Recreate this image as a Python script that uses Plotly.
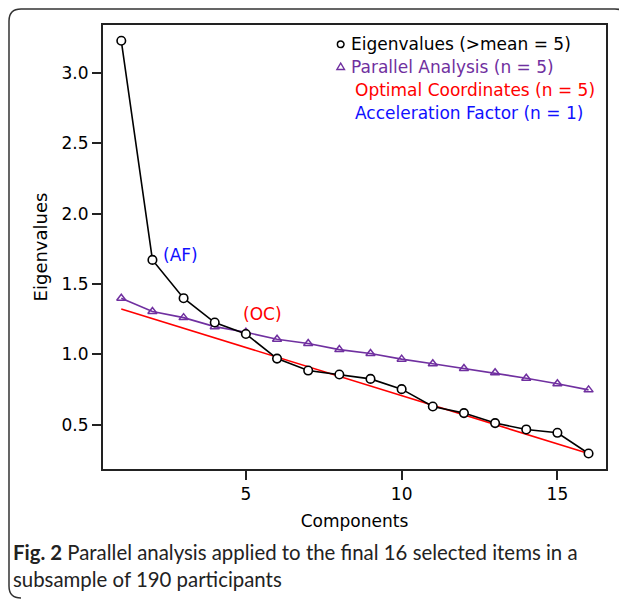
import plotly.graph_objects as go

# ---- data ----
components = list(range(1, 17))
eigenvalues = [3.227, 1.671, 1.399, 1.226, 1.145, 0.970, 0.885, 0.857,
               0.826, 0.753, 0.630, 0.583, 0.512, 0.467, 0.443, 0.296]
parallel = [1.399, 1.304, 1.261, 1.197, 1.157, 1.108, 1.077, 1.034,
            1.006, 0.966, 0.933, 0.900, 0.869, 0.831, 0.791, 0.748]
oc_x = [1, 16]
oc_y = [1.323, 0.296]

legend_labels = ["Eigenvalues (>mean = 5)", "Parallel Analysis (n = 5)",
                 "Optimal Coordinates (n = 5)", "Acceleration Factor (n = 1)"]
y_ticks = [0.5, 1.0, 1.5, 2.0, 2.5, 3.0]
x_ticks = [5, 10, 15]
caption_1 = "<b>Fig. 2</b> Parallel analysis applied to the final 16 selected items in a"
caption_2 = "subsample of 190 participants"

# ---- layout geometry (page has an 8px body margin) ----
OFF = 8
W, H = 627 - OFF, 603 - OFF
PLOT_L, PLOT_R, PLOT_T, PLOT_B = 103, 606, 25, 469   # page coordinates
L = PLOT_L - OFF
R = W - (PLOT_R - OFF)
T = PLOT_T - OFF
B = H - (PLOT_B - OFF)
PW, PH = PLOT_R - PLOT_L, PLOT_B - PLOT_T


def px(x):
    return (x - PLOT_L) / PW


def py(y):
    return (PLOT_B - y) / PH


BLACK = "#000000"
PURPLE = "rgb(112,48,160)"
RED = "#ff0000"
BLUE = "#1010ff"
FONT = "DejaVu Sans"

fig = go.Figure()

fig.add_trace(go.Scatter(
    x=oc_x, y=oc_y, mode="lines",
    line=dict(color=RED, width=1.6), showlegend=False, hoverinfo="skip"))

fig.add_trace(go.Scatter(
    x=components, y=parallel, mode="lines+markers",
    line=dict(color=PURPLE, width=1.6),
    marker=dict(symbol="triangle-up-open", size=8, color=PURPLE,
                line=dict(width=1.5, color=PURPLE)),
    showlegend=False))

fig.add_trace(go.Scatter(
    x=components, y=eigenvalues, mode="lines+markers",
    line=dict(color=BLACK, width=1.6),
    marker=dict(symbol="circle", size=8.5, color="white",
                line=dict(width=1.6, color=BLACK)),
    showlegend=False))

# ---- outer rounded border (page coordinates) ----
pts = [("M", 21, 598), ("Q", 9, 598, 9, 586), ("L", 9, 21), ("Q", 9, 9, 21, 9),
       ("L", 615, 9), ("Q", 627, 9, 627, 21)]
path = ""
for p in pts:
    cmd = p[0]
    coords = p[1:]
    parts = []
    for i in range(0, len(coords), 2):
        parts.append(f"{px(coords[i]):.5f},{py(coords[i+1]):.5f}")
    path += cmd + " " + " ".join(parts) + " "

shapes = [dict(type="path", xref="paper", yref="paper", path=path.strip(),
               line=dict(color="#333333", width=1.5), layer="below")]

# legend symbols
shapes.append(dict(type="circle", xref="paper", yref="paper",
                   xsizemode="pixel", ysizemode="pixel",
                   xanchor=px(340.7), yanchor=py(44.3),
                   x0=-3.3, x1=3.3, y0=-3.3, y1=3.3,
                   line=dict(color=BLACK, width=1.5)))
shapes.append(dict(type="path", xref="paper", yref="paper",
                   xsizemode="pixel", ysizemode="pixel",
                   xanchor=px(340.7), yanchor=py(66.7),
                   path="M -3.8,-2.8 L 3.8,-2.8 L 0,3.6 Z",
                   line=dict(color=PURPLE, width=1.4)))

annotations = []
legend_rows = [(349, 44.3, BLACK), (349, 66.7, PURPLE),
               (353, 90.0, RED), (353, 113.0, BLUE)]
for label, (lx, ly, col) in zip(legend_labels, legend_rows):
    annotations.append(dict(text=label, xref="paper", yref="paper",
                            x=px(lx), y=py(ly), xanchor="left", yanchor="middle",
                            showarrow=False, font=dict(family=FONT, size=17, color=col)))

annotations.append(dict(text="(AF)", x=2.28, y=1.706, xanchor="left", yanchor="middle",
                        showarrow=False, font=dict(family=FONT, size=17, color=BLUE)))
annotations.append(dict(text="(OC)", x=4.85, y=1.287, xanchor="left", yanchor="middle",
                        showarrow=False, font=dict(family=FONT, size=17, color=RED)))

annotations.append(dict(text=caption_1, xref="paper", yref="paper",
                        x=px(11), y=py(552), xanchor="left", yanchor="middle",
                        showarrow=False, font=dict(family="Lato", size=20.4, color="#222222")))
annotations.append(dict(text=caption_2, xref="paper", yref="paper",
                        x=px(11), y=py(579), xanchor="left", yanchor="middle",
                        showarrow=False, font=dict(family="Lato", size=20.4, color="#222222")))

axis_common = dict(showline=True, mirror=True, linewidth=2, linecolor="#222222",
                   ticks="outside", ticklen=9, tickwidth=1.5, tickcolor="#222222",
                   showgrid=False, zeroline=False,
                   tickfont=dict(family=FONT, size=17, color=BLACK))

fig.update_layout(
    width=W, height=H,
    margin=dict(l=L, r=R, t=T, b=B, autoexpand=False),
    paper_bgcolor="white", plot_bgcolor="white",
    font=dict(family=FONT, size=17, color=BLACK),
    xaxis=dict(range=[0.413, 16.56], tickvals=x_ticks,
               title=dict(text="Components", font=dict(family=FONT, size=17), standoff=12),
               **axis_common),
    yaxis=dict(range=[0.186, 3.339], tickvals=y_ticks, tickformat=".1f",
               title=dict(text="Eigenvalues", font=dict(family=FONT, size=18), standoff=9),
               **axis_common),
    shapes=shapes,
    annotations=annotations,
    showlegend=False,
)

fig.write_html("out.html")
